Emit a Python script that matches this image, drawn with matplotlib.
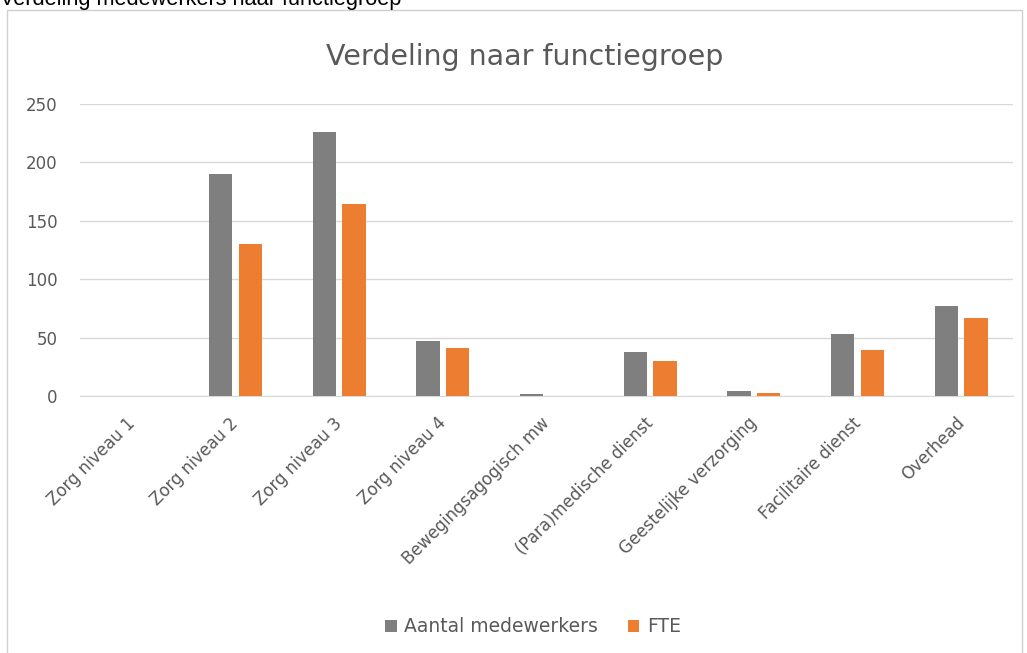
import matplotlib.pyplot as plt
from matplotlib.patches import Rectangle
import matplotlib.transforms as mtransforms
import numpy as np

# categories and values
categories = ["Zorg niveau 1", "Zorg niveau 2", "Zorg niveau 3", "Zorg niveau 4",
              "Bewegingsagogisch mw", "(Para)medische dienst", "Geestelijke verzorging",
              "Facilitaire dienst", "Overhead"]
aantal = [0, 190, 226, 47, 1.5, 38, 4, 53, 77]
fte = [0, 130, 164, 41, 0, 30, 2.5, 39, 67]
yticks = [0, 50, 100, 150, 200, 250]

grey = "#7f7f7f"
orange = "#ed7d31"
txt = "#595959"

plt.rcParams['font.family'] = ['DejaVu Sans']

fig = plt.figure(figsize=(10.27, 6.53), dpi=100)

# outer frame of the chart object
fig.patches.append(Rectangle((7 / 1027, -0.05), 1015 / 1027, 1.05 - 10 / 653,
                             transform=fig.transFigure, fill=False,
                             edgecolor="#d0d0d0", lw=1))

# caption cut off at the top of the screenshot
fig.text(0.0, 1 - 5 / 653, "Verdeling medewerkers naar functiegroep",
         family="Liberation Sans", fontsize=15.7, color="black",
         va="baseline", ha="left")

ax = fig.add_axes([80 / 1027, 257 / 653, 933 / 1027, 292 / 653])

x = np.arange(len(categories))
w = 0.225
gap = 0.06
ax.bar(x - (w + gap) / 2, aantal, w, color=grey, label="Aantal medewerkers", zorder=3)
ax.bar(x + (w + gap) / 2, fte, w, color=orange, label="FTE", zorder=3)

ax.set_xlim(-0.5, len(categories) - 0.5)
ax.set_ylim(0, 250)
ax.set_yticks(yticks)
ax.yaxis.grid(True, color="#d9d9d9", lw=1, zorder=0)
for s in ["top", "right", "left"]:
    ax.spines[s].set_visible(False)
ax.spines["bottom"].set_color("#d9d9d9")
ax.tick_params(axis="both", length=0, colors=txt, labelsize=12)
ax.tick_params(axis="y", pad=16)
ax.tick_params(axis="x", pad=13)
ax.set_xticks(x)
ax.set_xticklabels(categories, rotation=45, ha="right", rotation_mode="anchor")
shift = mtransforms.ScaledTranslation(-6 / 100, 0, fig.dpi_scale_trans)
for lab in ax.get_xticklabels():
    lab.set_transform(lab.get_transform() + shift)

fig.text(525 / 1027, 1 - 57 / 653, "Verdeling naar functiegroep", ha="center",
         va="center", fontsize=20.5, color=txt)

leg = fig.legend(loc="center", bbox_to_anchor=(533 / 1027, 1 - 627 / 653), ncol=2,
                 frameon=False, fontsize=13.5, handlelength=0.6, handleheight=0.6,
                 handletextpad=0.4, columnspacing=1.6)
for t in leg.get_texts():
    t.set_color(txt)

fig.savefig("out.png", dpi=100)
